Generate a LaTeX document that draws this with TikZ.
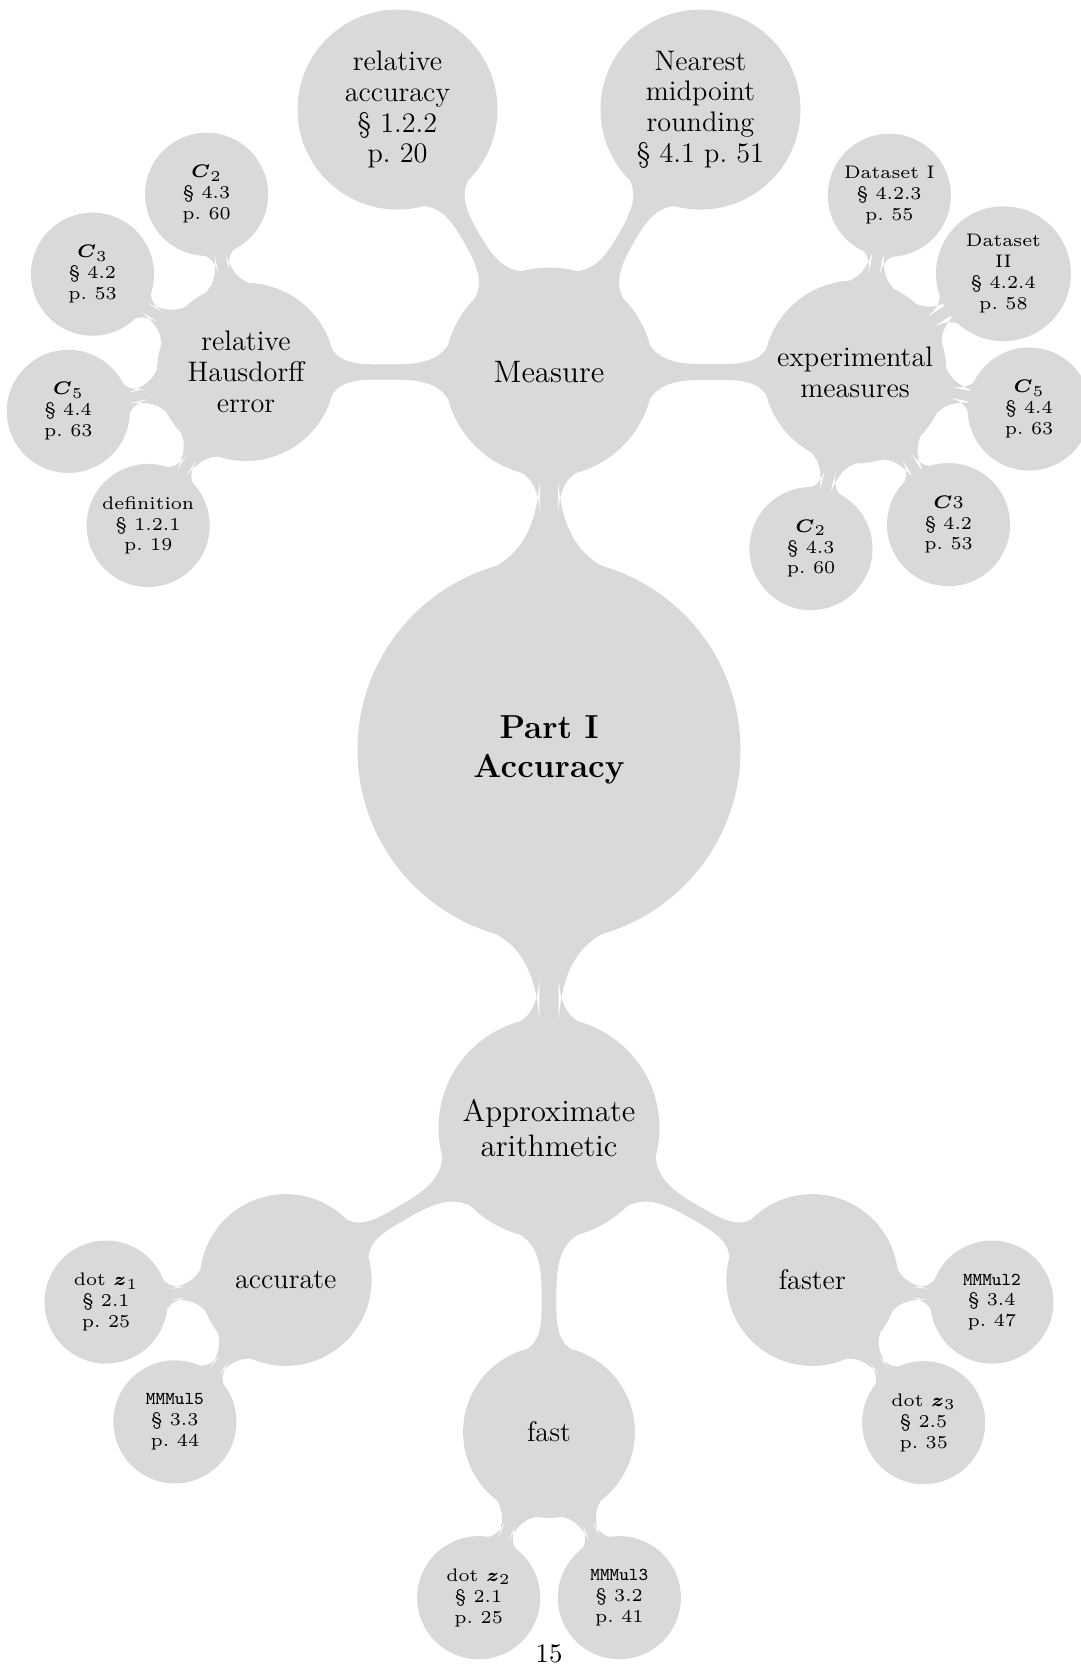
\documentclass[tikz,border=0pt]{standalone}
\usepackage{amsmath}
\usetikzlibrary{mindmap, backgrounds}
\tikzstyle{rootbubble}=[concept, text=black, text width=, align=center, minimum size=152pt, font=\fontsize{13.3}{15.6}\selectfont\bfseries]
\tikzstyle{topicbubble}=[concept, text=black, text width=, align=center, minimum size=82.4pt, font=\fontsize{12.4}{14}\selectfont]
\tikzstyle{themebubble}=[concept, text=black, text width=, align=center, minimum size=70pt, font=\fontsize{11.3}{12.3}\selectfont]
\tikzstyle{refbubble}=[concept, text=black, text width=, align=center, scale=1.21, minimum size=39.7pt, font=\fontsize{6}{6.9}\selectfont]
\tikzstyle{bar}=[circle connection bar switch color=from (gray!30) to (gray!30)]

\begin{document}
\begin{tikzpicture}[mindmap, concept color=gray!30, x=0.4pt, y=0.4pt]
    \useasboundingbox (-549,-914) rectangle (531,750);
    % centre and first ring
    \node[rootbubble] (root) at (0,0) {Part I\\Accuracy};
    \node[topicbubble] (measure) at (90:378) {Measure};
    \node[topicbubble, minimum size=87.2pt] (approx) at (270:378) {Approximate\\arithmetic};
    % around Measure
    \node[themebubble] (haus) at ([shift={(180:303)}]measure) {relative\\Hausdorff\\error};
    \node[themebubble, minimum size=72pt] (expm) at ([shift={(0:306)}]measure) {experimental\\measures};
    \node[themebubble, minimum size=78.8pt] (relacc) at ([shift={(120:303)}]measure) {relative\\accuracy\\\S~1.2.2\\p.~20};
    \node[themebubble, minimum size=78.8pt] (nearest) at ([shift={(60:303)}]measure) {Nearest\\midpoint\\rounding\\\S~4.1 p.~51};
    \node[refbubble] (ctwo) at ([shift={(102.5:182)}]haus) {$\boldsymbol{C}_2$\\\S~4.3\\p.~60};
    \node[refbubble] (cthree) at ([shift={(147.5:182)}]haus) {$\boldsymbol{C}_3$\\\S~4.2\\p.~53};
    \node[refbubble] (cfive) at ([shift={(192.5:182)}]haus) {$\boldsymbol{C}_5$\\\S~4.4\\p.~63};
    \node[refbubble] (defn) at ([shift={(237.5:182)}]haus) {definition\\\S~1.2.1\\p.~19};
    \node[refbubble] (dsone) at ([shift={(79:180)}]expm) {Dataset I\\\S~4.2.3\\p.~55};
    \node[refbubble, minimum size=43.6pt] (dstwo) at ([shift={(33.5:178)}]expm) {Dataset\\II\\\S~4.2.4\\p.~58};
    \node[refbubble] (cfiveb) at ([shift={(-12:178)}]expm) {$\boldsymbol{C}_5$\\\S~4.4\\p.~63};
    \node[refbubble] (cthreeb) at ([shift={(-58.5:179)}]expm) {$\boldsymbol{C}$3\\\S~4.2\\p.~53};
    \node[refbubble] (ctwob) at ([shift={(-104:182)}]expm) {$\boldsymbol{C}_2$\\\S~4.3\\p.~60};
    % around Approximate arithmetic
    \node[themebubble, minimum size=67.5pt] (accurate) at ([shift={(210:304)}]approx) {accurate};
    \node[themebubble, minimum size=67.5pt] (fast) at ([shift={(270:304)}]approx) {fast};
    \node[themebubble, minimum size=67.5pt] (faster) at ([shift={(330:304)}]approx) {faster};
    \node[refbubble] (dotone) at ([shift={(187:181)}]accurate) {dot $\boldsymbol{z}_1$\\\S~2.1\\p.~25};
    \node[refbubble] (mmmfive) at ([shift={(232:180)}]accurate) {\texttt{MMMul5}\\\S~3.3\\p.~44};
    \node[refbubble] (dottwo) at ([shift={(247:180)}]fast) {dot $\boldsymbol{z}_2$\\\S~2.1\\p.~25};
    \node[refbubble] (mmmthree) at ([shift={(293:180)}]fast) {\texttt{MMMul3}\\\S~3.2\\p.~41};
    \node[refbubble] (mmmtwo) at ([shift={(-7:181)}]faster) {\texttt{MMMul2}\\\S~3.4\\p.~47};
    \node[refbubble] (dotthree) at ([shift={(-52:181)}]faster) {dot $\boldsymbol{z}_3$\\\S~2.5\\p.~35};
    \node[anchor=base, font=\fontsize{10.7}{12}\selectfont] (pagenum) at (0,-912) {15};
    % connections
    \begin{scope}[on background layer]
        \foreach \a/\b in {root/measure, root/approx, measure/haus, measure/expm, measure/relacc, measure/nearest,
                           haus/ctwo, haus/cthree, haus/cfive, haus/defn,
                           expm/dsone, expm/dstwo, expm/cfiveb, expm/cthreeb, expm/ctwob,
                           approx/accurate, approx/fast, approx/faster,
                           accurate/dotone, accurate/mmmfive, fast/dottwo, fast/mmmthree,
                           faster/mmmtwo, faster/dotthree}
            \path (\a) to[bar] (\b);
    \end{scope}
\end{tikzpicture}
\end{document}
